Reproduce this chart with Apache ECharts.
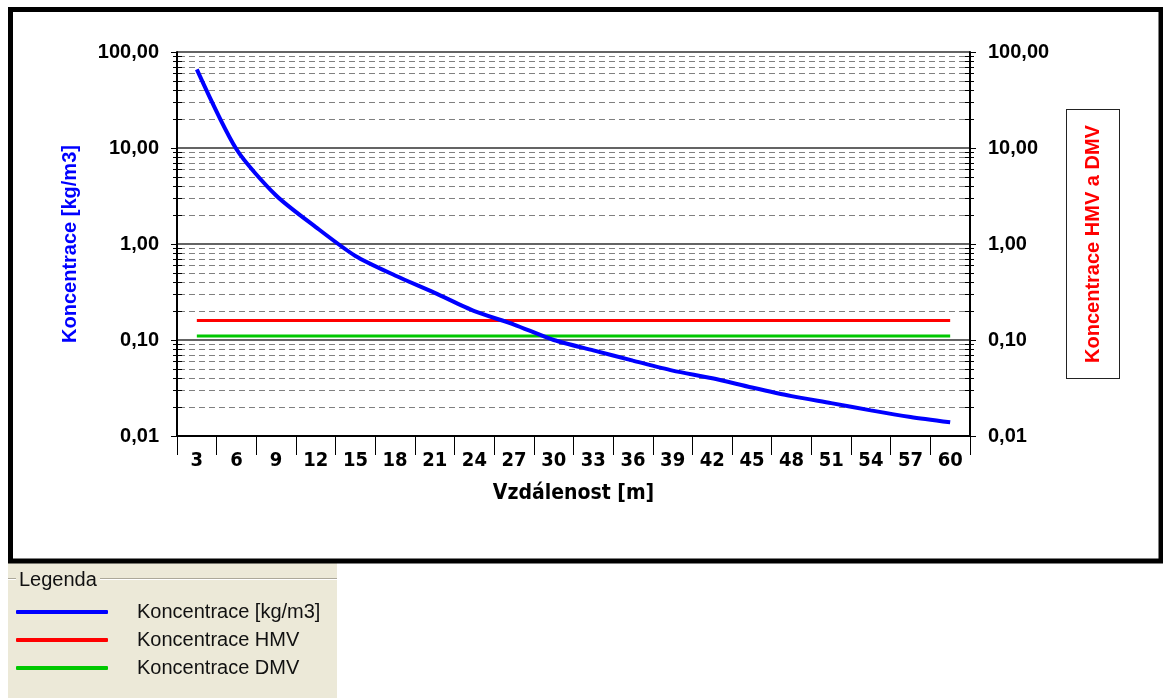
<!DOCTYPE html>
<html>
<head>
<meta charset="utf-8">
<script src="https://cdn.jsdelivr.net/npm/echarts@6/dist/echarts.min.js"></script>
<style>
html,body{margin:0;padding:0;background:#fff;}
#chart{width:1163px;height:698px;}
</style>
</head>
<body>
<div id="chart"></div>
<script>
var categories = ['3','6','9','12','15','18','21','24','27','30','33','36','39','42','45','48','51','54','57','60'];
var koncentrace = [66, 9.7, 3.2, 1.5, 0.75, 0.47, 0.31, 0.2, 0.145, 0.1, 0.078, 0.061, 0.048, 0.04, 0.032, 0.026, 0.022, 0.0185, 0.0158, 0.0139];
var hmv = [0.16,0.16,0.16,0.16,0.16,0.16,0.16,0.16,0.16,0.16,0.16,0.16,0.16,0.16,0.16,0.16,0.16,0.16,0.16,0.16];
var dmv = [0.11,0.11,0.11,0.11,0.11,0.11,0.11,0.11,0.11,0.11,0.11,0.11,0.11,0.11,0.11,0.11,0.11,0.11,0.11,0.11];
var minorTicks = [0.02,0.03,0.04,0.05,0.06,0.07,0.08,0.09,
                  0.2,0.3,0.4,0.5,0.6,0.7,0.8,0.9,
                  2,3,4,5,6,7,8,9,
                  20,30,40,50,60,70,80,90];
var seriesNames = ['Koncentrace [kg/m3]', 'Koncentrace HMV', 'Koncentrace DMV'];

var chart = echarts.init(document.getElementById('chart'), null, {renderer:'canvas'});

function fmt(v){ return Number(v).toFixed(2).replace('.', ','); }

var labelStyle = {fontFamily:'Liberation Sans, Arial, sans-serif', fontWeight:'bold', fontSize:20, color:'#000'};
var narrow = 'Liberation Sans Narrow, DejaVu Sans Condensed, Arial, sans-serif';

var option = {
  animation:false,
  backgroundColor:'#ffffff',
  graphic:[
    {type:'rect', z:-10, shape:{x:8, y:563, width:329, height:135}, style:{fill:'#ECE9D8'}},
    {type:'rect', z:-9, shape:{x:10.5, y:9.5, width:1150.5, height:551.5}, style:{fill:'#ffffff', stroke:'#000', lineWidth:5}},
    {type:'line', shape:{x1:8, y1:578.5, x2:16, y2:578.5}, style:{stroke:'#ACA899', lineWidth:1}},
    {type:'line', shape:{x1:8, y1:579.5, x2:16, y2:579.5}, style:{stroke:'#ffffff', lineWidth:1}},
    {type:'line', shape:{x1:100, y1:578.5, x2:337, y2:578.5}, style:{stroke:'#ACA899', lineWidth:1}},
    {type:'line', shape:{x1:100, y1:579.5, x2:337, y2:579.5}, style:{stroke:'#ffffff', lineWidth:1}},
    {type:'text', x:19, y:580, style:{text:'Legenda', fontFamily:'Liberation Sans, Arial, sans-serif', fontSize:20, fill:'#111', verticalAlign:'middle', align:'left'}}
  ],
  legend:{
    data:seriesNames,
    orient:'vertical',
    left:16, top:602,
    padding:0,
    itemWidth:92, itemHeight:4, itemGap:8,
    icon:'roundRect',
    textStyle:{fontFamily:'Liberation Sans, Arial, sans-serif', fontSize:20, color:'#111', lineHeight:20, padding:[0,0,0,24]}
  },
  grid:{left:177, right:193, top:52, bottom:262, containLabel:false},
  xAxis:{
    type:'category',
    data:categories,
    boundaryGap:true,
    name:'Vzdálenost [m]',
    nameLocation:'middle',
    nameGap:47,
    nameTextStyle:{fontFamily:narrow, fontWeight:'bold', fontSize:21, color:'#000'},
    axisLine:{show:true, lineStyle:{color:'#000', width:2}},
    axisTick:{show:true, interval:0, length:19, lineStyle:{color:'#000', width:1}},
    axisLabel:{interval:0, margin:15, fontFamily:narrow, fontWeight:'bold', fontSize:20, color:'#000'},
    splitLine:{show:false}
  },
  yAxis:[
    {
      type:'log', logBase:10, min:0.01, max:100, splitNumber:4,
      position:'left',
      name:'Koncentrace [kg/m3]',
      nameLocation:'middle', nameRotate:90, nameGap:97,
      nameTextStyle:{fontFamily:'Liberation Sans, Arial, sans-serif', fontWeight:'bold', fontSize:20, color:'#0000FF'},
      axisLine:{show:true, lineStyle:{color:'#000', width:2}},
      axisTick:{show:true, length:6, lineStyle:{color:'#000', width:1}},
      axisLabel:Object.assign({margin:18, formatter:fmt}, labelStyle),
      splitLine:{show:true, lineStyle:{color:'#303030', width:1.5}},
      minorTick:{show:false}, minorSplitLine:{show:false}
    },
    {
      type:'log', logBase:10, min:0.01, max:100, splitNumber:4,
      position:'right',
      name:'Koncentrace HMV a DMV',
      nameLocation:'middle', nameRotate:90, nameGap:97,
      nameTextStyle:{fontFamily:'Liberation Sans, Arial, sans-serif', fontWeight:'bold', fontSize:20, color:'#FF0000',
        borderColor:'#222', borderWidth:1, padding:[16,15,16,15], backgroundColor:'#fff'},
      axisLine:{show:true, lineStyle:{color:'#000', width:2}},
      axisTick:{show:true, length:6, lineStyle:{color:'#000', width:1}},
      axisLabel:Object.assign({margin:18, formatter:fmt}, labelStyle),
      splitLine:{show:false}
    }
  ],
  series:[
    {
      name:'minor', type:'custom', yAxisIndex:0, silent:true, z:1, clip:false,
      data:minorTicks.map(function(v){ return [0, v]; }),
      renderItem:function(params, api){
        var y = Math.round(api.coord([0, api.value(1)])[1]) + 0.5;
        var cs = params.coordSys;
        var x0 = cs.x, x1 = cs.x + cs.width;
        return {type:'group', children:[
          {type:'line', shape:{x1:x0+2, y1:y, x2:x1-2, y2:y}, style:{stroke:'#808080', lineWidth:1, lineDash:[6,4]}},
          {type:'line', shape:{x1:x0-4, y1:y, x2:x0+5, y2:y}, style:{stroke:'#000', lineWidth:1}},
          {type:'line', shape:{x1:x1-5, y1:y, x2:x1+4, y2:y}, style:{stroke:'#000', lineWidth:1}}
        ]};
      }
    },
    {
      name:seriesNames[0], type:'line', yAxisIndex:0, data:koncentrace, z:5,
      symbol:'none', smooth:0.25,
      lineStyle:{color:'#0000FF', width:4}, itemStyle:{color:'#0000FF'}
    },
    {
      name:seriesNames[1], type:'line', yAxisIndex:1, data:hmv, z:4,
      symbol:'none',
      lineStyle:{color:'#FF0000', width:3}, itemStyle:{color:'#FF0000'}
    },
    {
      name:seriesNames[2], type:'line', yAxisIndex:1, data:dmv, z:4,
      symbol:'none',
      lineStyle:{color:'#00C800', width:3}, itemStyle:{color:'#00C800'}
    }
  ]
};
chart.setOption(option);
</script>
</body>
</html>
